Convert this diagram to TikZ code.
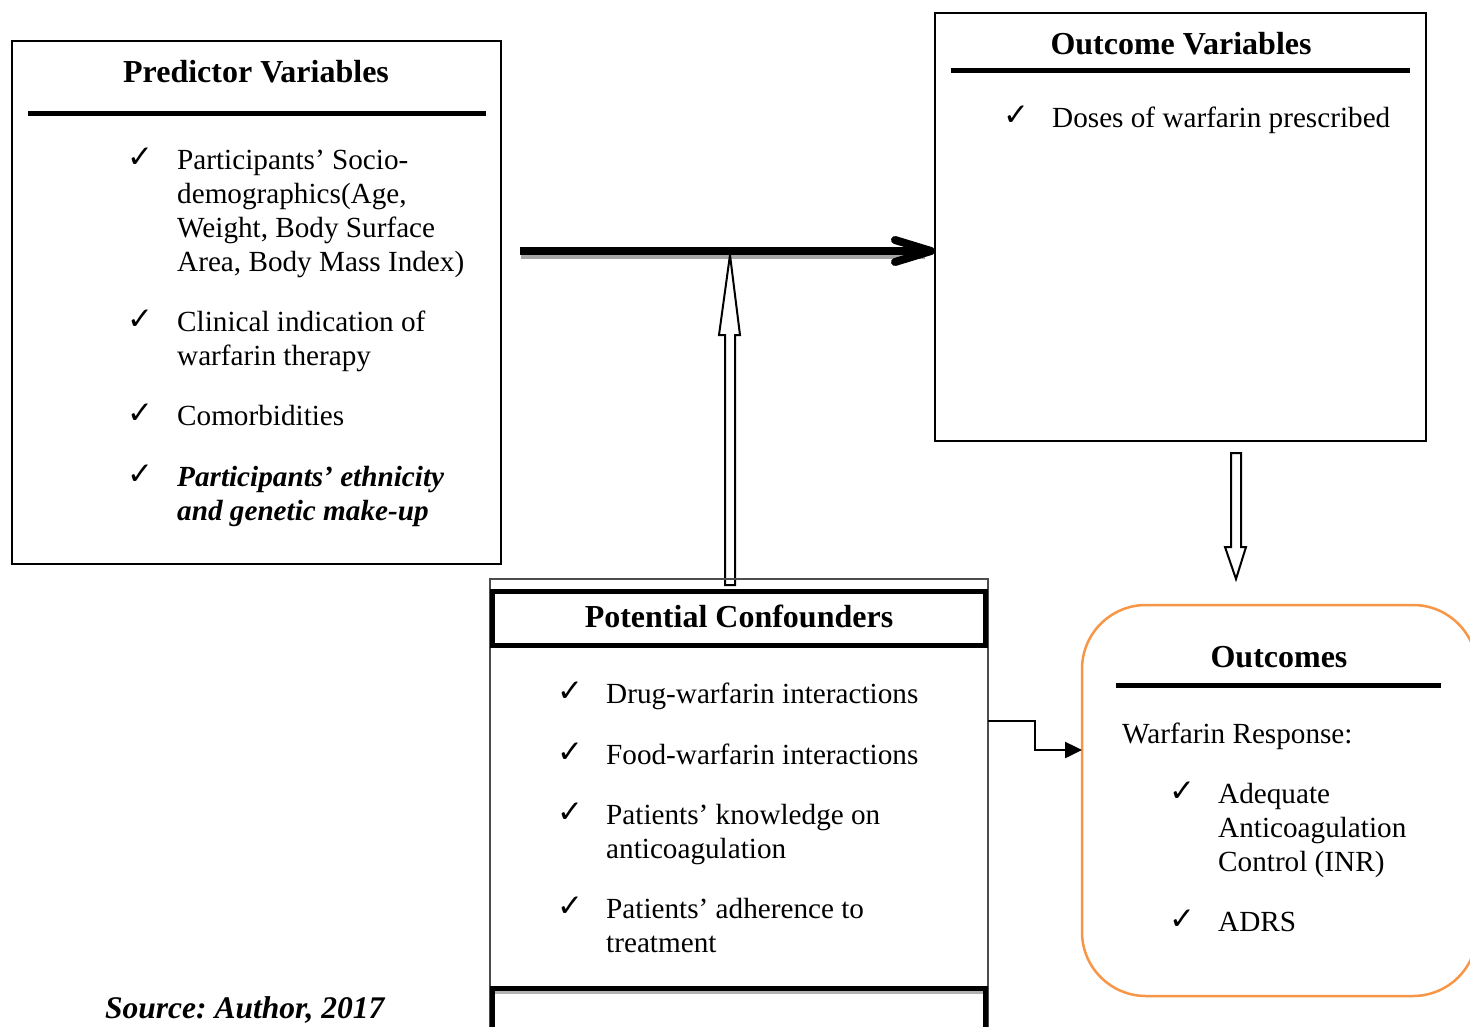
\documentclass[tikz,border=0pt]{standalone}
\usepackage{fontspec}
\setmainfont{Liberation Serif}
\newfontfamily\chkfont{DejaVu Sans}
\frenchspacing
\usetikzlibrary{arrows.meta}
\definecolor{orangeline}{HTML}{F79646}
\tikzset{
  body/.style={font=\fontsize{29.2}{34}\selectfont, inner sep=0pt, align=left, anchor=base west},
  chk/.style={font=\fontsize{31}{34}\chkfont, inner sep=0pt, anchor=base},
  ttl/.style={font=\fontsize{32}{36}\selectfont\bfseries, inner sep=0pt, anchor=base},
  thinbox/.style={draw, line width=1.5pt, inner sep=0pt, outer sep=0pt, anchor=north west},
  rule/.style={line width=5pt},
  hollow/.style={draw, line width=2pt, fill=white},
}
\begin{document}
\begin{tikzpicture}[x=1pt, y=-1pt]
\useasboundingbox (0,0) rectangle (1470,1026);
\clip (0,0) rectangle (1470,1026);
% Predictor box
\node[thinbox, minimum width=489pt, minimum height=523pt] (pred) at (12,41) {};
\node[ttl] (predt) at (256,82) {Predictor Variables};
\draw[rule] (28,113) -- (486,113);
\node[chk] (pc1) at (140,167) {✓};
\node[body] (pi1) at (177,271) {Participants’ Socio-\\demographics(Age,\\Weight, Body Surface\\Area, Body Mass Index)};
\node[chk] (pc2) at (140,329) {✓};
\node[body] (pi2) at (177,365) {Clinical indication of\\warfarin therapy};
\node[chk] (pc3) at (140,423) {✓};
\node[body] (pi3) at (177,425) {Comorbidities};
\node[chk] (pc4) at (140,484) {✓};
\node[body, font=\fontsize{29.2}{34}\selectfont\bfseries\itshape] (pi4) at (177,520) {Participants’ ethnicity\\and genetic make-up};
% Outcome variables box
\node[thinbox, minimum width=491pt, minimum height=428pt] (outv) at (935,13) {};
\node[ttl] (outvt) at (1181,54) {Outcome Variables};
\draw[rule] (951,70) -- (1410,70);
\node[chk] (oc1) at (1016,125) {✓};
\node[body] (oi1) at (1052,127) {Doses of warfarin prescribed};
% big arrow
\coordinate (bigstart) at (520,251);
\draw[line width=8pt, black!35] (521,255) -- (925,255);
\draw[line width=8pt, -{Straight Barb[length=36pt, width=22pt, round]}] (bigstart) -- (bigstart -| outv.west);
% hollow up arrow
\draw[hollow] (725,585) -- (725,335) -- (719,335) -- (730,255) -- (740,335) -- (735,335) -- (735,585) -- cycle;
% Confounders
\node[draw, black!70, line width=1.5pt, inner sep=0pt, outer sep=0pt, anchor=north west, minimum width=498pt, minimum height=470pt] (conf) at (490,579) {};
\node[draw, line width=5pt, inner sep=0pt, outer sep=0pt, anchor=north west, minimum width=493pt, minimum height=53.5pt] (conft) at (492.5,591.5) {};
\node[ttl] (confttl) at (739,627) {Potential Confounders};
\draw[line width=3pt, black!30] (495,992) -- (983,992);
\draw[line width=5pt] (492.5,1040) -- (492.5,988) -- (985.5,988) -- (985.5,1040);
\node[chk] (cc1) at (570,701) {✓};
\node[body] (ci1) at (606,703) {Drug-warfarin interactions};
\node[chk] (cc2) at (570,762) {✓};
\node[body] (ci2) at (606,764) {Food-warfarin interactions};
\node[chk] (cc3) at (570,822) {✓};
\node[body] (ci3) at (606,858) {Patients’ knowledge on\\anticoagulation};
\node[chk] (cc4) at (570,916) {✓};
\node[body] (ci4) at (606,952) {Patients’ adherence to\\treatment};
% hollow down arrow
\draw[hollow] (1231,453) -- (1241,453) -- (1241,547) -- (1246,547) -- (1236,579) -- (1225,547) -- (1231,547) -- cycle;
% Outcomes
\node[draw=orangeline, line width=2.5pt, rounded corners=64pt, inner sep=0pt, outer sep=0pt, anchor=north west, minimum width=395pt, minimum height=391pt] (outc) at (1082,605) {};
\node[ttl] (outct) at (1279,667) {Outcomes};
\draw[rule] (1116,685) -- (1441,685);
\node[body] (wr) at (1122,743) {Warfarin Response:};
\node[chk] (wc1) at (1182,801) {✓};
\node[body] (wi1) at (1218,871) {Adequate\\Anticoagulation\\Control (INR)};
\node[chk] (wc2) at (1182,929) {✓};
\node[body] (wi2) at (1218,931) {ADRS};
% elbow connector
\draw[line width=2.5pt, -{Triangle[length=17pt, width=16pt]}] (conf.east |- 0,721) -- (1035,721) -- (1035,750) -- (outc.west |- 0,750);
% source
\node[body, font=\fontsize{31.5}{34}\selectfont\bfseries\itshape] (src) at (105,1018) {Source: Author, 2017};
\end{tikzpicture}
\end{document}
